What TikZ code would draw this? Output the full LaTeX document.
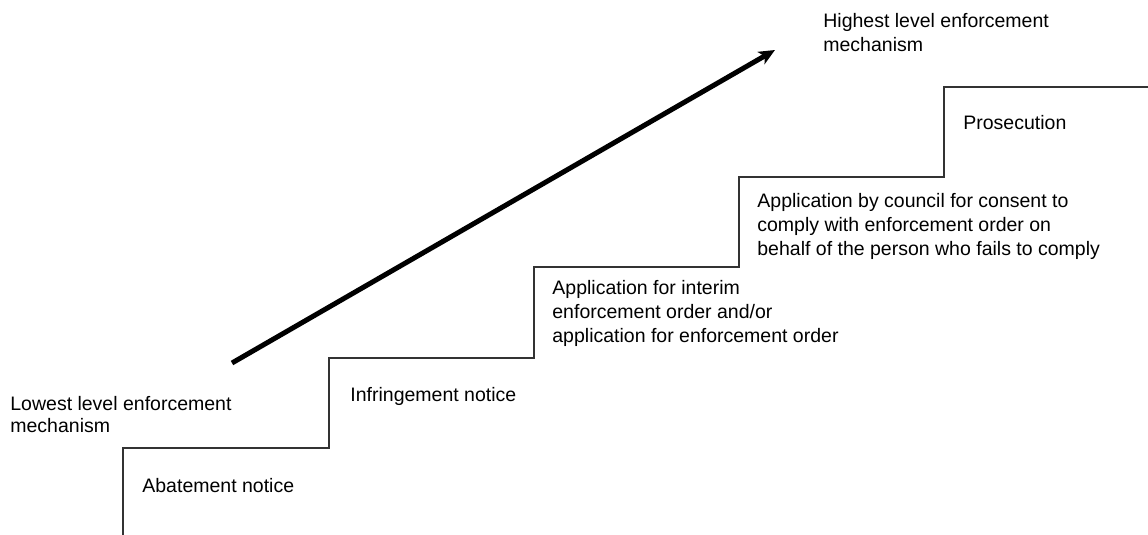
\documentclass[tikz,border=0pt]{standalone}
\usepackage{fontspec}
\setmainfont{Liberation Sans}
\usetikzlibrary{arrows.meta}

\begin{document}
\begin{tikzpicture}[x=0.5pt,y=-0.5pt]

\tikzset{label/.style = {anchor=base west,inner sep=0pt,align=left,font=\fontsize{9.75}{12}\selectfont}}
\tikzset{stair/.style = {draw=black!80,line width=0.6pt}}
\tikzset{rise/.style = {line width=2.5pt,-{Stealth[length=8pt,width=7pt,inset=2pt]}}}
\useasboundingbox (0,0) rectangle (1148,535);

%steps
\draw[stair] (123,535) -- (123,448) -- (329,448) -- (329,358) -- (534,358)
  -- (534,267) -- (739,267) -- (739,177) -- (944,177) -- (944,87) -- (1148,87);

%labels (base = last line)
\node[label] (abate) at (142,492) {Abatement notice};
\node[label] (infringe) at (350,401) {Infringement notice};
\node[label] (interim) at (552,343) {Application for interim\\enforcement order and/or\\application for enforcement order};
\node[label] (council) at (757,256) {Application by council for consent to\\comply with enforcement order on\\behalf of the person who fails to comply};
\node[label] (prosec) at (963,130) {Prosecution};
\node[label, font=\fontsize{9.75}{11}\selectfont] (lowest) at (10,432) {Lowest level enforcement\\mechanism};
\node[label] (highest) at (823,52) {Highest level enforcement\\mechanism};

%arrow
\coordinate (low) at (232,363);
\coordinate (high) at (775,50);
\draw[rise] (low) -- (high);

\end{tikzpicture}
\end{document}
